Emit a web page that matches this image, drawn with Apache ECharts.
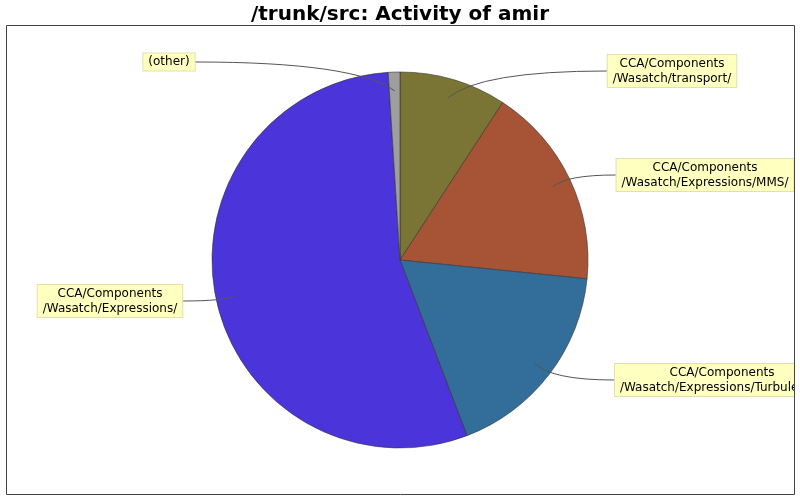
<!DOCTYPE html>
<html>
<head>
<meta charset="utf-8">
<script src="https://cdn.jsdelivr.net/npm/echarts@6/dist/echarts.min.js"></script>
<style>
  html, body { margin: 0; padding: 0; background: #fff; }
  #chart { width: 800px; height: 500px; }
</style>
</head>
<body>
<div id="chart"></div>
<script>
// slices, clockwise from 12 o'clock
var categories = [
    'CCA/Components\n/Wasatch/transport/',
    'CCA/Components\n/Wasatch/Expressions/MMS/',
    'CCA/Components\n/Wasatch/Expressions/Turbulence/',
    'CCA/Components\n/Wasatch/Expressions/',
    '(other)'
];
var values = [92, 174, 176, 548, 10];
var colors = ['#7a7535', '#a65435', '#336e9a', '#4b34d9', '#9e9e9e'];

// where each label box sits (centre of the box)
var labelAnchors = [[672, 71], [705, 175], [722, 380], [110, 301], [169, 62]];

var cx = 400, cy = 260, R = 188;

var total = values.reduce(function (a, b) { return a + b; }, 0);
function midAngle(i) {
    var before = 0;
    for (var k = 0; k < i; k++) before += values[k];
    return (before + values[i] / 2) / total * Math.PI * 2;
}

var labelWidths = [];

var myChart = echarts.init(document.getElementById('chart'));

var frame = [
    // the clipped part of the right-hand label
    { type: 'rect', z: 100, shape: { x: 795, y: 0, width: 10, height: 500 }, style: { fill: '#fff' } },
    { type: 'rect', z: 101, shape: { x: 6.5, y: 25.5, width: 788, height: 469 },
      style: { fill: null, stroke: '#444', lineWidth: 1 } }
];

var option = {
    backgroundColor: '#fff',
    animation: false,
    title: {
        text: '/trunk/src: Activity of amir',
        left: 'center',
        top: 0,
        textStyle: {
            fontFamily: 'DejaVu Sans',
            fontSize: 20,
            fontWeight: 'bold',
            color: '#000'
        }
    },
    graphic: frame,
    series: [{
        type: 'pie',
        center: [cx, cy],
        radius: R,
        startAngle: 90,
        clockwise: true,
        avoidLabelOverlap: false,
        emphasis: { disabled: true },
        itemStyle: { borderColor: '#333', borderWidth: 0.6 },
        label: {
            show: true,
            position: 'outside',
            fontFamily: 'DejaVu Sans',
            fontSize: 12,
            lineHeight: 15,
            color: '#000',
            backgroundColor: '#ffffc0',
            borderColor: '#e2e2a8',
            borderWidth: 1,
            padding: [1, 5, 1, 5],
            align: 'center'
        },
        labelLine: { show: false },
        labelLayout: function (params) {
            var i = params.dataIndex;
            labelWidths[i] = params.labelRect.width;
            return {
                x: labelAnchors[i][0],
                y: labelAnchors[i][1],
                align: 'center',
                verticalAlign: 'middle'
            };
        },
        data: categories.map(function (c, i) {
            return { name: c, value: values[i], itemStyle: { color: colors[i] } };
        })
    }]
};

myChart.setOption(option);

// leader lines: from inside each slice (mid angle) to the edge of its label box
var guides = values.map(function (v, i) {
    var a = midAngle(i);
    var sx = cx + 0.9 * R * Math.sin(a);
    var sy = cy - 0.9 * R * Math.cos(a);
    var ax = labelAnchors[i][0], ay = labelAnchors[i][1];
    var w = labelWidths[i] || 0;
    var ex = ax > cx ? ax - w / 2 : ax + w / 2;
    return {
        type: 'bezierCurve',
        z: 50,
        shape: {
            x1: sx, y1: sy,
            x2: ex, y2: ay,
            cpx1: sx + (ex - sx) * 0.2, cpy1: ay
        },
        style: { fill: null, stroke: '#555', lineWidth: 1 }
    };
});

myChart.setOption({ graphic: frame.concat(guides) });
</script>
</body>
</html>
